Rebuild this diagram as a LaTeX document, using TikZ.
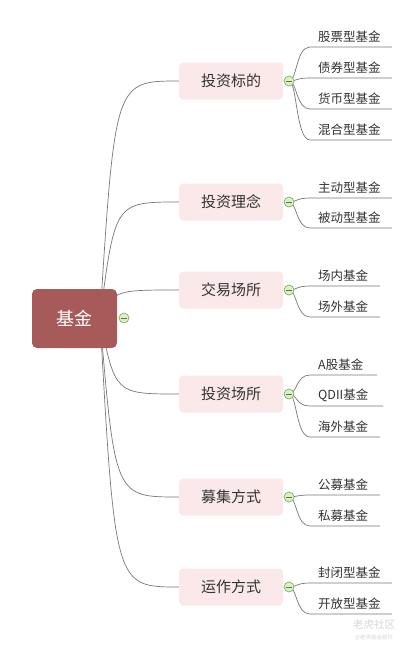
\documentclass[tikz,border=0pt]{standalone}
\usepackage{fontspec}
\setmainfont{Noto Sans CJK SC}
\definecolor{rootfill}{RGB}{166,90,90}
\definecolor{topicfill}{RGB}{251,233,233}
\definecolor{txt}{RGB}{51,51,51}
\definecolor{knobdraw}{RGB}{130,175,100}
\definecolor{knobfill}{RGB}{220,240,200}
\definecolor{knobdash}{RGB}{90,120,70}
\definecolor{connc}{RGB}{120,120,120}
\definecolor{wmc}{RGB}{215,215,215}
\begin{document}
\begin{tikzpicture}[x=1pt,y=-1pt,
  rootbox/.style={draw=none,fill=rootfill,rounded corners=5pt,minimum width=85pt,minimum height=59pt,text=white,font=\fontsize{18}{20}\selectfont,inner sep=0pt},
  topicbox/.style={draw=none,fill=topicfill,rounded corners=4pt,minimum width=104pt,minimum height=37pt,text=txt,font=\fontsize{15}{17}\selectfont,inner sep=0pt},
  leaf/.style={anchor=south west,inner sep=0pt,text=txt,font=\fontsize{12.5}{14}\selectfont},
  knob/.style={circle,draw=knobdraw,fill=knobfill,minimum size=10pt,inner sep=0pt,line width=0.7pt},
  knobline/.style={draw=knobdash,line width=0.8pt},
  conn/.style={draw=connc,line width=0.7pt},
]
\useasboundingbox (0,0) rectangle (415,648);
\fill[white] (0,0) rectangle (415,648);

% root connectors (drawn under root)
\coordinate (rc) at (100,318);
\foreach \cy in {81,202,290,394,497,587}{
  \draw[conn] (rc) .. controls (115,\cy) .. (179,\cy);
}

\node[rootbox] (root) at (74.5,318.5) {基金};
\node[knob] (rk) at (124,318) {};
\draw[knobline] (121,318) -- (127,318);

% topics
\node[topicbox] (t1) at (231,81) {投资标的};
\node[topicbox] (t2) at (231,202) {投资理念};
\node[topicbox] (t3) at (231,290) {交易场所};
\node[topicbox] (t4) at (231,394) {投资场所};
\node[topicbox] (t5) at (231,497) {募集方式};
\node[topicbox] (t6) at (231,587) {运作方式};

% leaves: topic y, line y, end x, text
\foreach \ty/\ly/\ex/\txt in {
  81/47/392/股票型基金, 81/78/392/债券型基金, 81/109/392/货币型基金, 81/140/392/混合型基金,
  202/198/392/主动型基金, 202/228/392/被动型基金,
  290/286/380/场内基金, 290/317/380/场外基金,
  394/375/377/A股基金, 394/406/383/QDII基金, 394/437/380/海外基金,
  497/495/380/公募基金, 497/526/380/私募基金,
  587/583/392/封闭型基金, 587/614/392/开放型基金}{
  \draw[conn] (289,\ty) .. controls (297,\ty) and (296,\ly) .. (310,\ly) -- (\ex,\ly);
  \node[leaf] at (318,\ly-4) {\txt};
}

\foreach \ty in {81,202,290,394,497,587}{
  \node[knob] at (289,\ty) {};
  \draw[knobline] (286,\ty) -- (292,\ty);
}

% watermark
\node[inner sep=0pt,text=wmc,font=\fontsize{10.5}{11}\selectfont] (wm) at (374,624) {老虎社区};
\node[inner sep=0pt,text=wmc,font=\fontsize{5.5}{6}\selectfont] (wm2) at (374,638) {@老虎基金邮件};
\end{tikzpicture}
\end{document}
